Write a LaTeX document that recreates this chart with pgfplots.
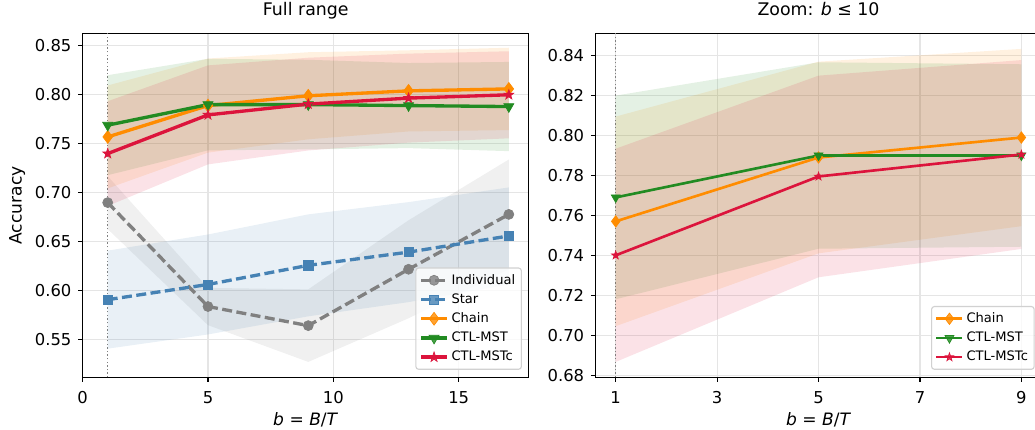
\documentclass[border=0pt]{standalone}
\usepackage{fontspec}
\setmainfont{DejaVu Sans}
\usepackage{pgfplots}
\pgfplotsset{compat=1.18}
\definecolor{cgray}{RGB}{128,128,128}
\definecolor{cblue}{RGB}{70,130,180}
\definecolor{corange}{RGB}{255,140,0}
\definecolor{cgreen}{RGB}{34,139,34}
\definecolor{cred}{RGB}{220,20,60}
\pgfdeclareplotmark{fstar}{%
  \pgfpathmoveto{\pgfqpointpolar{90}{\pgfplotmarksize}}%
  \pgfpathlineto{\pgfqpointpolar{126}{0.4\pgfplotmarksize}}%
  \pgfpathlineto{\pgfqpointpolar{162}{\pgfplotmarksize}}%
  \pgfpathlineto{\pgfqpointpolar{198}{0.4\pgfplotmarksize}}%
  \pgfpathlineto{\pgfqpointpolar{234}{\pgfplotmarksize}}%
  \pgfpathlineto{\pgfqpointpolar{270}{0.4\pgfplotmarksize}}%
  \pgfpathlineto{\pgfqpointpolar{306}{\pgfplotmarksize}}%
  \pgfpathlineto{\pgfqpointpolar{342}{0.4\pgfplotmarksize}}%
  \pgfpathlineto{\pgfqpointpolar{18}{\pgfplotmarksize}}%
  \pgfpathlineto{\pgfqpointpolar{54}{0.4\pgfplotmarksize}}%
  \pgfpathclose
  \pgfusepathqfillstroke}
\pgfplotsset{
  common/.style={
    scale only axis, width=321.3pt, height=247.8pt,
    axis line style={line width=0.8pt},
    tick align=outside, major tick length=3.2pt,
    tick style={black, line width=0.8pt},
    xtick pos=lower, ytick pos=left,
    grid=major, grid style={line width=0.8pt, color=black!10},
    /pgf/number format/assume math mode=true,
    ticklabel style={font=\fontsize{11.8}{14}\selectfont},
    yticklabel style={anchor=east, inner sep=0pt, xshift=-4.7pt,
      /pgf/number format/.cd, fixed, fixed zerofill, precision=2},
    xticklabel style={anchor=base, inner sep=0pt, yshift=-15.2pt},
    title style={font=\fontsize{12.5}{15}\selectfont, at={(axis description cs:0.5,1.0287)}, anchor=base},
    xlabel style={font=\fontsize{12.3}{15}\selectfont, at={(axis description cs:0.5,-0.140)}, anchor=base},
    ylabel style={font=\fontsize{12.3}{15}\selectfont, at={(axis description cs:-0.1466,0.5)}, anchor=center},
    xlabel={\textit{b} = \textit{B}/\textit{T}},
    legend cell align=left,
    legend image code/.code={\draw[mark repeat=2,mark phase=2] plot coordinates {(0cm,0cm) (0.33cm,0cm) (0.66cm,0cm)};},
    legend style={at={(axis description cs:1,0)}, anchor=south east, xshift=-5pt, yshift=5.5pt,
      font=\fontsize{9.4}{11}\selectfont, draw=black!18, line width=0.8pt, rounded corners=2pt,
      fill=white, fill opacity=0.8, text opacity=1, draw opacity=1, row sep=1.3pt, inner sep=2.5pt},
  },
  band/.style={fill=#1, fill opacity=0.12, draw=none, forget plot},
  vref/.style={cgray, line width=1pt, dash pattern=on 1pt off 1.6pt, forget plot},
}
\begin{document}
\begin{tikzpicture}
% ---------- Left: full range ----------
\begin{axis}[common, at={(0pt,0pt)}, anchor=south west,
  xmin=0, xmax=17.8, ymin=0.5116, ymax=0.8627,
  xtick={0,5,10,15}, ytick={0.55,0.60,0.65,0.70,0.75,0.80,0.85},
  title={Full range}, ylabel={Accuracy}]
\addplot[vref] coordinates {(1,0.5116) (1,0.8627)};
\addplot[band=cgray] coordinates {(1,0.717)(5,0.603)(9,0.6015)(13,0.672)(17,0.734)(17,0.622)(13,0.572)(9,0.5275)(5,0.565)(1,0.663)};
\addplot[band=cblue] coordinates {(1,0.641)(5,0.6575)(9,0.678)(13,0.6905)(17,0.7055)(17,0.6065)(13,0.5885)(9,0.574)(5,0.5555)(1,0.541)};
\addplot[band=corange] coordinates {(1,0.8095)(5,0.837)(9,0.8434)(13,0.8454)(17,0.848)(17,0.764)(13,0.7626)(9,0.7546)(5,0.741)(1,0.7045)};
\addplot[band=cgreen] coordinates {(1,0.820)(5,0.8367)(9,0.8357)(13,0.8324)(17,0.8335)(17,0.7425)(13,0.7456)(9,0.7443)(5,0.7433)(1,0.718)};
\addplot[band=cred] coordinates {(1,0.7934)(5,0.830)(9,0.8378)(13,0.842)(17,0.8444)(17,0.7556)(13,0.7512)(9,0.7432)(5,0.729)(1,0.6866)};
\addplot[cgray, line width=2.4pt, dash pattern=on 7.2pt off 3.2pt, mark=*, mark size=3.6pt, mark options={solid, line width=0.5pt}]
  coordinates {(1,0.690)(5,0.584)(9,0.5645)(13,0.622)(17,0.678)};
\addlegendentry{Individual}
\addplot[cblue, line width=2.4pt, dash pattern=on 7.2pt off 3.2pt, mark=square*, mark size=3.3pt, mark options={solid, line width=0.5pt}]
  coordinates {(1,0.591)(5,0.6065)(9,0.626)(13,0.6395)(17,0.656)};
\addlegendentry{Star}
\addplot[corange, line width=2.4pt, mark=diamond*, mark size=4.6pt, mark options={line width=0.5pt}]
  coordinates {(1,0.757)(5,0.789)(9,0.799)(13,0.804)(17,0.806)};
\addlegendentry{Chain}
\addplot[cgreen, line width=2.4pt, mark=triangle*, mark size=4.2pt, mark options={rotate=180, line width=0.5pt}]
  coordinates {(1,0.769)(5,0.790)(9,0.790)(13,0.789)(17,0.788)};
\addlegendentry{CTL-MST}
\addplot[cred, line width=2.4pt, mark=fstar, mark size=3.7pt, mark options={line width=0.5pt}]
  coordinates {(1,0.740)(5,0.7795)(9,0.7905)(13,0.7966)(17,0.800)};
\addlegendentry{CTL-MSTc}
\end{axis}
% ---------- Right: zoom ----------
\begin{axis}[common, at={(369.2pt,0pt)}, anchor=south west,
  xmin=0.6, xmax=9.4, ymin=0.6788, ymax=0.8512,
  xtick={1,3,5,7,9}, ytick={0.68,0.70,0.72,0.74,0.76,0.78,0.80,0.82,0.84},
  title={Zoom: \textit{b} ≤ 10}]
\addplot[vref] coordinates {(1,0.6788) (1,0.8512)};
\addplot[band=corange] coordinates {(1,0.8095)(5,0.837)(9,0.8434)(9,0.7546)(5,0.741)(1,0.7045)};
\addplot[band=cgreen] coordinates {(1,0.820)(5,0.8367)(9,0.8357)(9,0.7443)(5,0.7433)(1,0.718)};
\addplot[band=cred] coordinates {(1,0.7934)(5,0.830)(9,0.8378)(9,0.7432)(5,0.729)(1,0.6866)};
\addplot[corange, line width=1.9pt, mark=diamond*, mark size=4.1pt, mark options={line width=0.5pt}]
  coordinates {(1,0.757)(5,0.789)(9,0.799)};
\addlegendentry{Chain}
\addplot[cgreen, line width=1.9pt, mark=triangle*, mark size=3.7pt, mark options={rotate=180, line width=0.5pt}]
  coordinates {(1,0.769)(5,0.790)(9,0.790)};
\addlegendentry{CTL-MST}
\addplot[cred, line width=1.9pt, mark=fstar, mark size=3.1pt, mark options={line width=0.5pt}]
  coordinates {(1,0.740)(5,0.7795)(9,0.7905)};
\addlegendentry{CTL-MSTc}
\end{axis}
\pgfresetboundingbox
\useasboundingbox (-59.5pt,-37.8pt) rectangle (685.7pt,271.8pt);
\end{tikzpicture}
\end{document}
